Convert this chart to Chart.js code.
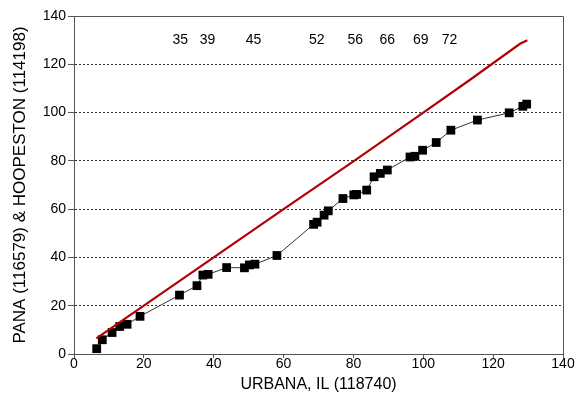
<!DOCTYPE html>
<html>
<head>
<meta charset="utf-8">
<script src="https://cdn.jsdelivr.net/npm/chart.js@4"></script>
<style>
  html, body { margin: 0; padding: 0; background: #fff; }
  #wrap { width: 582px; height: 400px; }
</style>
</head>
<body>
<div id="wrap"><canvas id="chart" width="582" height="400"></canvas></div>
<script>
// double-mass points, Urbana vs Pana & Hoopeston
const urbana = [6.5, 8.1, 10.9, 13.1, 15.2, 18.9, 30.2, 35.2, 36.9, 38.4, 43.7, 48.8, 50.2, 51.8, 58.1,
    68.6, 69.6, 71.6, 72.8, 77.0, 80.1, 80.9, 83.8, 85.9, 87.7, 89.7, 96.2, 97.6, 99.8, 103.7, 107.9,
    115.5, 124.6, 128.5, 129.6];
const panaHoop = [2.2, 5.9, 8.9, 11.4, 12.3, 15.6, 24.4, 28.3, 32.7, 33.0, 35.8, 35.7, 36.9, 37.2, 40.8,
    53.7, 54.6, 57.5, 59.3, 64.4, 65.9, 66.1, 67.9, 73.4, 74.8, 76.2, 81.6, 81.9, 84.4, 87.6, 92.7,
    96.9, 99.9, 102.6, 103.5];

// red reference line (nearly 1:1)
const refX = [6.4, 20.0, 40.0, 60.0, 80.0, 100.0, 113.4, 127.7, 129.8];
const refY = [6.5, 20.0, 40.0, 60.0, 79.8, 100.0, 113.6, 128.5, 130.0];

// year labels along the top
const yearLabels = ['35', '39', '45', '52', '56', '66', '69', '72'];
const yearX = [30.4, 38.2, 51.4, 69.5, 80.5, 89.7, 99.3, 107.5];
const yearY = 130;

const FONT = "'Liberation Sans', Arial, Helvetica, sans-serif";

const toPts = (xs, ys) => xs.map((x, i) => ({ x: x, y: ys[i] }));

const extras = {
    id: 'extras',
    afterDatasetsDraw(chart) {
        const ctx = chart.ctx;
        const a = chart.chartArea;
        const sx = chart.scales.x, sy = chart.scales.y;
        ctx.save();
        // frame top and right
        ctx.strokeStyle = '#555';
        ctx.lineWidth = 1;
        ctx.beginPath();
        ctx.moveTo(a.left, a.top + 0.5);
        ctx.lineTo(a.right + 0.5, a.top + 0.5);
        ctx.lineTo(a.right + 0.5, a.bottom);
        ctx.stroke();
        // years
        ctx.fillStyle = '#000';
        ctx.font = '14px ' + FONT;
        ctx.textAlign = 'center';
        ctx.textBaseline = 'middle';
        yearLabels.forEach((t, i) => {
            ctx.fillText(t, sx.getPixelForValue(yearX[i]), sy.getPixelForValue(yearY));
        });
        ctx.restore();
    }
};

new Chart(document.getElementById('chart').getContext('2d'), {
    type: 'scatter',
    data: {
        datasets: [
            {
                data: toPts(refX, refY),
                showLine: true,
                borderColor: '#b30000',
                borderWidth: 2.2,
                pointRadius: 0,
                tension: 0
            },
            {
                data: toPts(urbana, panaHoop),
                showLine: true,
                borderColor: '#333',
                borderWidth: 1,
                pointStyle: 'rect',
                pointRadius: 6.2,
                pointBackgroundColor: '#000',
                pointBorderColor: '#000',
                pointBorderWidth: 0,
                tension: 0
            }
        ]
    },
    options: {
        responsive: false,
        animation: false,
        layout: { padding: { left: 0, top: 16, right: 19, bottom: 0 } },
        plugins: {
            legend: { display: false },
            tooltip: { enabled: false }
        },
        scales: {
            x: {
                type: 'linear',
                min: 0,
                max: 140,
                afterFit: s => { s.height = 46; },
                border: { color: '#555', width: 1 },
                grid: { drawOnChartArea: false, tickLength: 4, tickColor: '#555' },
                ticks: { stepSize: 20, color: '#000', padding: -2, font: { family: FONT, size: 14 } },
                title: {
                    display: true,
                    text: 'URBANA, IL (118740)',
                    color: '#000',
                    font: { family: FONT, size: 16 },
                    padding: { top: 0, bottom: 6 }
                }
            },
            y: {
                type: 'linear',
                min: 0,
                max: 140,
                afterFit: s => { s.width = 74; },
                border: { color: '#555', width: 1, dash: [2, 2] },
                grid: {
                    color: c => (c.tick.value === 0 || c.tick.value === 140) ? 'rgba(0,0,0,0)' : '#333',
                    tickLength: 6,
                    tickColor: '#555'
                },
                ticks: { stepSize: 20, color: '#000', padding: 2, font: { family: FONT, size: 14 } },
                title: {
                    display: true,
                    text: 'PANA (116579) & HOOPESTON (114198)',
                    color: '#000',
                    font: { family: FONT, size: 17 },
                    padding: { top: 10, bottom: 0 }
                }
            }
        }
    },
    plugins: [extras]
});
</script>
</body>
</html>
